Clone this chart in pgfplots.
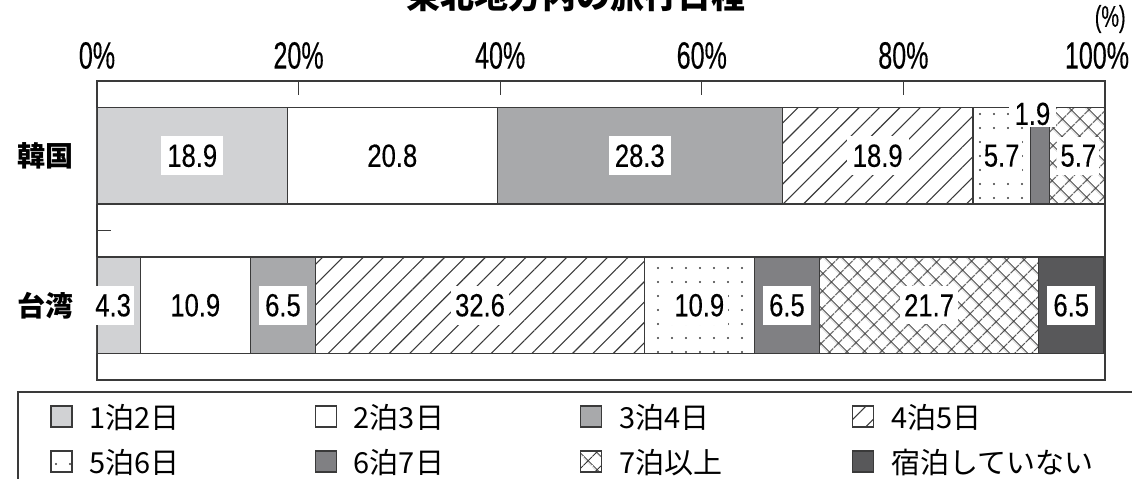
\documentclass[border=0pt]{standalone}
\usepackage{fontspec}
\setmainfont[FakeStretch=0.8, FakeBold=0.3]{Liberation Sans}
\newfontfamily\cond[FakeStretch=0.66, FakeBold=0.3]{Liberation Sans}
\newfontfamily\jp{Noto Sans CJK JP}
\usepackage{pgfplots}
\pgfplotsset{compat=1.18}
\usetikzlibrary{patterns.meta}
\definecolor{cA}{HTML}{D1D2D4}
\definecolor{cC}{HTML}{A8A9AB}
\definecolor{cF}{HTML}{808083}
\definecolor{cH}{HTML}{58585A}
\definecolor{edge}{HTML}{3A3A3A}
\tikzset{lt/.style={text width=#1, inner xsep=8.5pt, inner ysep=0pt, minimum height=22.5pt, text depth=0pt},
  lbl/.style={fill=white, inner xsep=3pt, inner ysep=4pt, font=\fontsize{16}{19}\selectfont}}
\begin{document}
\begin{tikzpicture}
\begin{axis}[
  at={(0,0)}, anchor=north west,
  scale only axis, width=504pt, height=149.5pt,
  xbar stacked, bar width=0.645,
  xmin=0, xmax=100, ymin=-0.5, ymax=1.5,
  axis line style={line width=0.8pt, draw=edge},
  xtick={0,20,40,60,80,100},
  xticklabels={0\%,20\%,40\%,60\%,80\%,\hspace*{-8pt}100\%},
  xtick pos=right, xticklabel pos=right,
  tick align=inside,
  major tick length=7pt,
  tick style={line width=0.6pt, edge},
  ytick={0.5}, yticklabels={}, ytick pos=left,
  extra y ticks={0,1}, extra y tick labels={台湾,韓国},
  extra y tick style={major tick length=0pt},
  xticklabel style={font=\cond\fontsize{19}{22}\selectfont, yshift=2.5pt},
  yticklabel style={font=\jp\bfseries\fontsize{14}{16}\selectfont, xshift=-8pt},
  every axis plot/.append style={draw=edge, line width=0.6pt},
  legend columns=4,
  legend style={draw=none, fill=none, inner sep=0pt, row sep=0pt, column sep=0pt,
    font=\jp\fontsize{14.5}{17}\selectfont,
    at={(-0.0466,-0.0452)}, anchor=north west},
  legend image code/.code={\draw[#1, line width=0.6pt] (0pt,-5.25pt) rectangle (10.5pt,5.25pt);},
]
\addplot[fill=cA] coordinates {(18.9,1) (4.3,0)};
\addlegendentry[lt=104pt]{1泊2日}
\addplot[fill=white] coordinates {(20.8,1) (10.9,0)};
\addlegendentry[lt=104.5pt]{2泊3日}
\addplot[fill=cC] coordinates {(28.3,1) (6.5,0)};
\addlegendentry[lt=108pt]{3泊4日}
\addplot[pattern={Lines[angle=45,distance=7.2pt,line width=0.55pt]}, pattern color=edge] coordinates {(18.9,1) (32.6,0)};
\addlegendentry[lt=110pt]{4泊5日}
\addplot[pattern={Dots[distance=7pt,radius=0.6pt]}, pattern color=edge] coordinates {(5.7,1) (10.9,0)};
\addlegendentry[lt=104pt]{5泊6日}
\addplot[fill=cF] coordinates {(1.9,1) (6.5,0)};
\addlegendentry[lt=104.5pt]{6泊7日}
\addplot[pattern={Hatch[angle=45,distance=6.5pt,line width=0.6pt]}, pattern color=edge] coordinates {(5.7,1) (21.7,0)};
\addlegendentry[lt=108pt]{7泊以上}
\addplot[fill=cH] coordinates {(0,1) (6.5,0)};
\addlegendentry[lt=110pt]{宿泊していない}
\coordinate (k1) at (axis cs:9.45,1);
\coordinate (k2) at (axis cs:29.3,1);
\coordinate (k3) at (axis cs:53.85,1);
\coordinate (k4) at (axis cs:77.45,1);
\coordinate (k5) at (axis cs:89.75,1);
\coordinate (k6) at (axis cs:92.8,1.28);
\coordinate (k7) at (axis cs:97.35,1);
\coordinate (t1) at (axis cs:1.6,0);
\coordinate (t2) at (axis cs:9.75,0);
\coordinate (t3) at (axis cs:18.45,0);
\coordinate (t4) at (axis cs:38.0,0);
\coordinate (t5) at (axis cs:59.75,0);
\coordinate (t6) at (axis cs:68.45,0);
\coordinate (t7) at (axis cs:82.55,0);
\coordinate (t8) at (axis cs:96.65,0);
\end{axis}
\node[lbl] at (k1) {18.9};
\node[lbl] at (k2) {20.8};
\node[lbl] at (k3) {28.3};
\node[lbl] at (k4) {18.9};
\node[lbl, inner xsep=1.5pt] at (k5) {5.7};
\node[lbl, inner ysep=1pt] at (k6) {1.9};
\node[lbl, inner xsep=1.5pt] at (k7) {5.7};
\node[lbl, inner xsep=1.5pt] at (t1) {4.3};
\node[lbl] at (t2) {10.9};
\node[lbl] at (t3) {6.5};
\node[lbl, inner xsep=2pt] at (t4) {32.6};
\node[lbl, inner xsep=2pt] at (t5) {10.9};
\node[lbl] at (t6) {6.5};
\node[lbl, inner xsep=2pt] at (t7) {21.7};
\node[lbl] at (t8) {6.5};
\draw[line width=0.8pt, edge] (-39.5pt,-155.5pt) rectangle (530pt,-210pt);
\node[anchor=base, inner sep=0pt, font=\jp\bfseries\fontsize{17}{20}\selectfont] at (239.5pt,36.2pt) {東北地方内の旅行日程};
\node[anchor=east, inner sep=0pt, font=\cond\fontsize{15}{18}\selectfont] at (514.5pt,31pt) {(\%)};
\pgfresetboundingbox
\path[use as bounding box] (-48.5pt,40.5pt) rectangle (517.5pt,-198.5pt);
\end{tikzpicture}
\end{document}
